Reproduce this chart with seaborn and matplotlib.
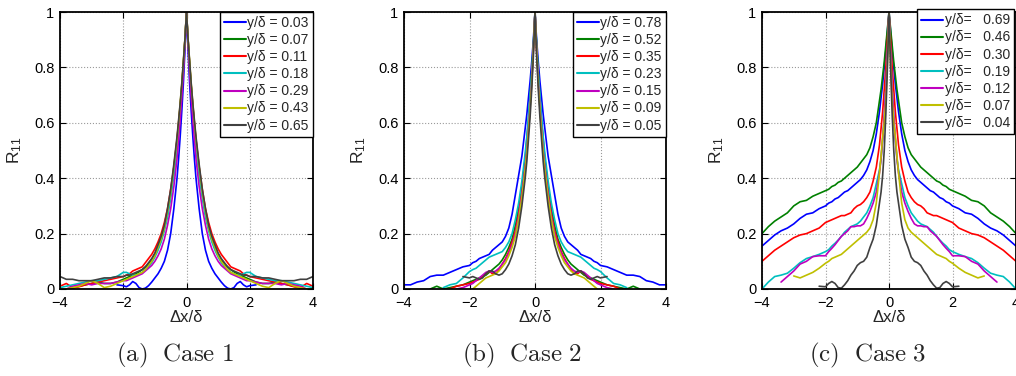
import numpy as np
import pandas as pd
import matplotlib
matplotlib.use("Agg")
import matplotlib.pyplot as plt
import seaborn as sns

# ---------------- data (half curves, dx/delta >= 0; autocorrelation is symmetric) -------------
X = [0, 0.05, 0.1, 0.15, 0.2, 0.25, 0.3, 0.4, 0.5, 0.6, 0.7, 0.8, 0.9, 1.0, 1.1, 1.2, 1.3,
     1.4, 1.5, 1.6, 1.7, 1.8, 1.9, 2.0, 2.2, 2.4, 2.6, 2.8, 3.0, 3.2, 3.4, 3.6, 3.8, 4.0]
N = None

labels_a = ["y/δ = 0.03", "y/δ = 0.07", "y/δ = 0.11", "y/δ = 0.18",
            "y/δ = 0.29", "y/δ = 0.43", "y/δ = 0.65"]
a_003 = [1, 0.86, 0.74, 0.64, 0.55, 0.47, 0.40, 0.29, 0.20, 0.14, 0.10, 0.075, 0.055, 0.04, 0.025, 0.012, 0.003,
         0.0, 0.005, 0.02, 0.027, 0.015, 0.008, 0.012, 0.015, N, N, N, N, N, N, N, N, N]
a_007 = [1, 0.9, 0.81, 0.73, 0.66, 0.59, 0.53, 0.43, 0.34, 0.27, 0.22, 0.18, 0.15, 0.125, 0.105, 0.09, 0.08,
         0.07, 0.062, 0.055, 0.05, 0.045, 0.04, 0.035, 0.025, 0.02, 0.02, 0.025, 0.02, 0.015, 0.01, 0.003, 0.0, N]
a_011 = [1, 0.9, 0.81, 0.73, 0.66, 0.6, 0.54, 0.44, 0.36, 0.29, 0.24, 0.2, 0.17, 0.145, 0.125, 0.11, 0.095,
         0.08, 0.075, 0.07, 0.065, 0.055, 0.05, 0.045, 0.04, 0.035, 0.03, 0.025, 0.02, 0.015, 0.008, 0.005, 0.02, 0.01]
a_018 = [1, 0.89, 0.8, 0.72, 0.64, 0.57, 0.51, 0.41, 0.33, 0.26, 0.21, 0.17, 0.14, 0.115, 0.095, 0.08, 0.07,
         0.06, 0.055, 0.05, 0.05, 0.055, 0.06, 0.06, 0.045, 0.04, 0.035, 0.03, 0.03, 0.025, 0.02, 0.015, 0.01, 0.005]
a_029 = [1, 0.88, 0.78, 0.69, 0.61, 0.54, 0.47, 0.37, 0.29, 0.23, 0.18, 0.145, 0.12, 0.1, 0.085, 0.075, 0.065,
         0.055, 0.05, 0.045, 0.04, 0.035, 0.03, 0.03, 0.025, 0.02, 0.02, 0.02, 0.015, 0.02, 0.015, 0.01, 0.0, N]
a_043 = [1, 0.9, 0.82, 0.74, 0.67, 0.6, 0.54, 0.44, 0.35, 0.28, 0.22, 0.18, 0.15, 0.12, 0.1, 0.085, 0.07,
         0.06, 0.055, 0.05, 0.045, 0.04, 0.035, 0.03, 0.02, 0.01, 0.005, 0.02, 0.03, 0.02, 0.01, 0.005, 0.0, 0.0]
a_065 = [1, 0.9, 0.82, 0.74, 0.67, 0.61, 0.55, 0.45, 0.36, 0.29, 0.23, 0.19, 0.16, 0.13, 0.11, 0.095, 0.08,
         0.07, 0.065, 0.06, 0.055, 0.05, 0.05, 0.045, 0.045, 0.04, 0.04, 0.035, 0.03, 0.03, 0.03, 0.035, 0.035, 0.045]

labels_b = ["y/δ = 0.78", "y/δ = 0.52", "y/δ = 0.35", "y/δ = 0.23",
            "y/δ = 0.15", "y/δ = 0.09", "y/δ = 0.05"]
b_078 = [1, 0.9, 0.82, 0.75, 0.69, 0.63, 0.58, 0.48, 0.41, 0.34, 0.27, 0.22, 0.19, 0.17, 0.16, 0.15, 0.14,
         0.125, 0.12, 0.115, 0.11, 0.1, 0.095, 0.085, 0.08, 0.07, 0.06, 0.05, 0.05, 0.045, 0.03, 0.025, 0.015, 0.015]
b_052 = [1, 0.88, 0.78, 0.69, 0.61, 0.54, 0.47, 0.37, 0.29, 0.23, 0.18, 0.15, 0.125, 0.105, 0.09, 0.08, 0.07,
         0.06, 0.05, 0.045, 0.04, 0.035, 0.03, 0.025, 0.015, 0.01, 0.005, 0.0, 0.01, 0.0, N, N, N, N]
b_035 = [1, 0.87, 0.76, 0.67, 0.59, 0.52, 0.45, 0.35, 0.27, 0.21, 0.17, 0.135, 0.11, 0.09, 0.07, 0.055, 0.055,
         0.065, 0.055, 0.045, 0.035, 0.03, 0.025, 0.02, 0.015, 0.01, 0.0, N, N, N, N, N, N, N]
b_023 = [1, 0.88, 0.78, 0.7, 0.62, 0.55, 0.49, 0.39, 0.31, 0.25, 0.2, 0.17, 0.15, 0.135, 0.13, 0.125, 0.12,
         0.115, 0.105, 0.095, 0.085, 0.075, 0.07, 0.063, 0.04, 0.02, 0.015, 0.005, N, N, N, N, N, N]
b_015 = [1, 0.86, 0.75, 0.66, 0.58, 0.5, 0.44, 0.34, 0.26, 0.2, 0.16, 0.13, 0.105, 0.09, 0.075, 0.065, 0.06,
         0.065, 0.06, 0.05, 0.04, 0.03, 0.02, 0.015, 0.005, 0.0, N, N, N, N, N, N, N, N]
b_009 = [1, 0.86, 0.74, 0.65, 0.57, 0.49, 0.43, 0.33, 0.25, 0.19, 0.15, 0.12, 0.095, 0.08, 0.065, 0.055, 0.05,
         0.045, 0.04, 0.03, 0.02, 0.01, 0.0, N, N, N, N, N, N, N, N, N, N, N]
b_005 = [1, 0.84, 0.72, 0.62, 0.54, 0.46, 0.4, 0.3, 0.22, 0.16, 0.12, 0.09, 0.07, 0.055, 0.05, 0.055, 0.065,
         0.065, 0.055, 0.04, 0.035, 0.04, 0.045, 0.04, 0.045, N, N, N, N, N, N, N, N, N]

labels_c = ["y/δ=   0.69", "y/δ=   0.46", "y/δ=   0.30", "y/δ=   0.19",
            "y/δ=   0.12", "y/δ=   0.07", "y/δ=   0.04"]
c_069 = [1, 0.93, 0.86, 0.8, 0.74, 0.69, 0.64, 0.56, 0.5, 0.46, 0.43, 0.41, 0.395, 0.385, 0.375, 0.365, 0.355,
         0.35, 0.34, 0.33, 0.325, 0.315, 0.31, 0.3, 0.29, 0.275, 0.27, 0.255, 0.235, 0.22, 0.21, 0.195, 0.175, 0.155]
c_046 = [1, 0.94, 0.88, 0.82, 0.77, 0.72, 0.68, 0.6, 0.55, 0.51, 0.485, 0.47, 0.455, 0.44, 0.43, 0.42, 0.41,
         0.4, 0.39, 0.385, 0.375, 0.37, 0.36, 0.355, 0.345, 0.335, 0.32, 0.315, 0.3, 0.275, 0.26, 0.245, 0.225, 0.2]
c_030 = [1, 0.9, 0.8, 0.72, 0.64, 0.58, 0.52, 0.44, 0.39, 0.35, 0.33, 0.315, 0.305, 0.3, 0.29, 0.275, 0.27,
         0.265, 0.265, 0.26, 0.255, 0.25, 0.245, 0.24, 0.22, 0.21, 0.2, 0.195, 0.185, 0.17, 0.155, 0.14, 0.12, 0.1]
c_019 = [1, 0.85, 0.72, 0.62, 0.54, 0.47, 0.43, 0.38, 0.33, 0.3, 0.275, 0.26, 0.245, 0.235, 0.23, 0.225, 0.215,
         0.205, 0.19, 0.177, 0.165, 0.155, 0.142, 0.135, 0.125, 0.117, 0.11, 0.095, 0.075, 0.057, 0.05, 0.045, 0.025, 0.0]
c_012 = [1, 0.85, 0.72, 0.62, 0.54, 0.47, 0.42, 0.35, 0.31, 0.28, 0.255, 0.235, 0.228, 0.228, 0.225, 0.225, 0.21,
         0.2, 0.19, 0.175, 0.16, 0.147, 0.135, 0.12, 0.12, 0.117, 0.1, 0.09, 0.065, 0.045, 0.025, N, N, N]
c_007 = [1, 0.82, 0.68, 0.6, 0.55, 0.48, 0.42, 0.31, 0.25, 0.22, 0.205, 0.195, 0.185, 0.175, 0.165, 0.155, 0.145,
         0.135, 0.125, 0.12, 0.115, 0.11, 0.1, 0.093, 0.075, 0.06, 0.05, 0.04, 0.047, N, N, N, N, N]
c_004 = [1, 0.8, 0.63, 0.5, 0.41, 0.35, 0.31, 0.23, 0.18, 0.15, 0.115, 0.1, 0.095, 0.085, 0.065, 0.05, 0.03,
         0.015, 0.003, 0.005, 0.02, 0.027, 0.02, 0.008, 0.01, N, N, N, N, N, N, N, N, N]

series_a = [a_003, a_007, a_011, a_018, a_029, a_043, a_065]
series_b = [b_078, b_052, b_035, b_023, b_015, b_009, b_005]
series_c = [c_069, c_046, c_030, c_019, c_012, c_007, c_004]
captions = ["(a)  Case 1", "(b)  Case 2", "(c)  Case 3"]

# MATLAB default line colours
colors = [(0, 0, 1), (0, 0.5, 0), (1, 0, 0), (0, 0.75, 0.75),
          (0.75, 0, 0.75), (0.75, 0.75, 0), (0.25, 0.25, 0.25)]


def long_frame(labels, series):
    rows = []
    for lab, ys in zip(labels, series):
        pts = [(x, y) for x, y in zip(X, ys) if y is not None]
        full = [(-x, y) for x, y in reversed(pts[1:])] + pts
        for x, y in full:
            rows.append({"x": x, "R": y, "label": lab})
    return pd.DataFrame(rows)


# ---------------- style ----------------
sns.set_style("ticks")
plt.rcParams["font.family"] = ["Liberation Sans", "DejaVu Sans"]
plt.rcParams["mathtext.fontset"] = "cm"
plt.rcParams["mathtext.default"] = "regular"

W, H = 1016, 376
fig = plt.figure(figsize=(W / 100, H / 100), dpi=100)

axes_px = [(60, 313), (404, 666), (762, 1016)]
top_px, bot_px = 12, 289
cap_x = [175, 522, 868]

panels = [(labels_a, series_a), (labels_b, series_b), (labels_c, series_c)]

for i, ((labels, series), (l, r)) in enumerate(zip(panels, axes_px)):
    ax = fig.add_axes([l / W, (H - bot_px) / H, (r - l) / W, (bot_px - top_px) / H])
    df = long_frame(labels, series)
    sns.lineplot(data=df, x="x", y="R", hue="label", hue_order=labels,
                 palette=dict(zip(labels, colors)), estimator=None, lw=1.2, ax=ax)
    ax.set_xlim(-4, 4)
    ax.set_ylim(0, 1)
    ax.set_xticks([-4, -2, 0, 2, 4])
    ax.set_yticks([0, 0.2, 0.4, 0.6, 0.8, 1])
    ax.set_yticklabels(["0", "0.2", "0.4", "0.6", "0.8", "1"])
    ax.tick_params(direction="in", top=True, right=True, length=4, width=0.8,
                   labelsize=10.5, colors="black")
    ax.tick_params(axis="x", pad=5)
    ax.tick_params(axis="y", pad=4)
    ax.grid(True, linestyle=":", color="#9a9a9a", linewidth=0.8)
    for s in ax.spines.values():
        s.set_linewidth(1.3)
        s.set_color("black")
    ax.set_xlabel("Δx/δ", fontsize=12, labelpad=0)
    ax.set_ylabel("R$_{11}$", fontsize=12.5, labelpad=7)
    handles, labs = ax.get_legend_handles_labels()
    if i < 2:
        leg = ax.legend(handles, labs, loc="upper right", borderaxespad=0.0, fontsize=10,
                        frameon=True, fancybox=False, framealpha=1, edgecolor="black",
                        labelspacing=0.22, borderpad=0.3, handlelength=1.6, handletextpad=0.1)
    else:
        leg = ax.legend(handles, labs, loc="upper left", bbox_to_anchor=(0.61, 1.01),
                        borderaxespad=0.0, fontsize=10,
                        frameon=True, fancybox=False, framealpha=1, edgecolor="black",
                        labelspacing=0.22, borderpad=0.3, handlelength=1.6, handletextpad=0.1)
    leg.get_frame().set_linewidth(1.0)
    for ln in leg.get_lines():
        ln.set_linewidth(1.5)
    cap = captions[i].replace(" ", r"\ ")
    fig.text(cap_x[i] / W, 1 - 355 / H, r"$\mathrm{" + cap + "}$", fontsize=18,
             ha="center", va="center")

fig.savefig("out.png", dpi=100)
